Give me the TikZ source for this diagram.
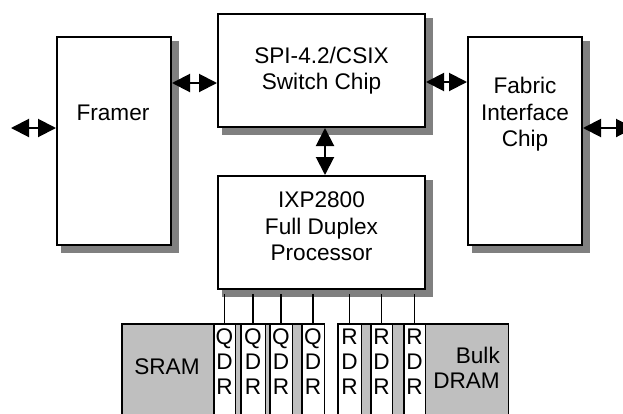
\documentclass[tikz,border=0pt]{standalone}
\usepackage{fontspec}
\setmainfont{Liberation Sans}
\usetikzlibrary{arrows.meta}

\begin{document}
\begin{tikzpicture}[x=1pt,y=-1pt,
    box/.style={draw,line width=2pt,fill=white,inner sep=0pt,align=center,
      font=\fontsize{22.6}{26.5}\selectfont},
    boxshadow/.style={fill=gray,draw=none,inner sep=0pt},
    boxtext/.style={inner sep=0pt,align=center,font=\fontsize{22.6}{26.5}\selectfont},
    mem/.style={draw,line width=1.5pt,fill=black!25,inner sep=0pt,minimum height=115.5pt},
    strip/.style={draw,line width=1.5pt,fill=white,inner sep=0pt,minimum height=115.5pt},
    memtext/.style={inner sep=0pt,align=center,font=\fontsize{22.6}{25}\selectfont},
    link/.style={line width=2pt,{Triangle[length=18pt,width=18pt]}-{Triangle[length=18pt,width=18pt]}},
    stub/.style={line width=1.2pt,shorten >=4pt}]
  \path[use as bounding box] (0,0) rectangle (623,413);
  \clip (0,0) rectangle (623,413);

  \node[boxshadow,minimum width=118pt,minimum height=212pt] (framershadow) at (120,147) {};
  \node[boxshadow,minimum width=211pt,minimum height=117pt] (switchshadow) at (327.5,76.5) {};
  \node[boxshadow,minimum width=118pt,minimum height=212pt] (fabricshadow) at (531,147) {};
  \node[boxshadow,minimum width=211pt,minimum height=117pt] (ixpshadow) at (327.5,238.5) {};

  \node[box,minimum width=114pt,minimum height=208pt] (framer) at (114,141) {};
  \node[boxtext] (framerlabel) at (113,112.5) {Framer};
  \node[box,minimum width=207pt,minimum height=113pt] (switch) at (321.5,70.5)
    {SPI-4.2/CSIX\\Switch Chip};
  \node[box,minimum width=114pt,minimum height=208pt] (fabric) at (525,141) {};
  \node[boxtext] (fabriclabel) at (525,114.5) {Fabric\\Interface\\Chip};
  \node[box,minimum width=207pt,minimum height=113pt] (ixp) at (321.5,232.5) {};
  \node[boxtext] (ixplabel) at (321.5,226.7) {IXP2800\\Full Duplex\\Processor};

  \node[mem,minimum width=202.5pt] (sram) at (223,381.5) {};
  \node[memtext] (sramlabel) at (167,367) {SRAM};
  \node[mem,minimum width=170.5pt] (dram) at (423,381.5) {};
  \node[memtext,align=right,anchor=east] (dramlabel) at (500,367.4) {Bulk\\DRAM};

  \foreach \n/\x/\w/\l in {q1/224.5/21.5/Q,q2/253/24.5/Q,q3/281/22.5/Q,q4/313/22.5/Q,
      r1/349.5/23.5/R,r2/381.5/21.5/R,r3/414.5/21.5/R} {
    \node[strip,minimum width=\w pt] (\n) at (\x,381.5) {};
    \node[memtext] (\n label) at (\x,362) {\l\\D\\R};
    \draw[stub] (\n.north) -- (\n.north |- ixp.south);
  }

  \coordinate (linein) at (11,128);
  \coordinate (lineout) at (634,128);
  \begin{scope}[link]
    \draw (linein) -- (linein -| framer.west);
    \draw ([yshift=-12.5pt]switch.west) -- ([yshift=-12.5pt]switch.west -| framer.east);
    \draw ([yshift=-11.5pt]switch.east) -- ([yshift=-11.5pt]switch.east -| fabric.west);
    \draw ([xshift=3.5pt]switch.south) -- ([xshift=3.5pt]ixp.north);
    \draw (fabric.east |- lineout) -- (lineout);
  \end{scope}
\end{tikzpicture}
\end{document}
